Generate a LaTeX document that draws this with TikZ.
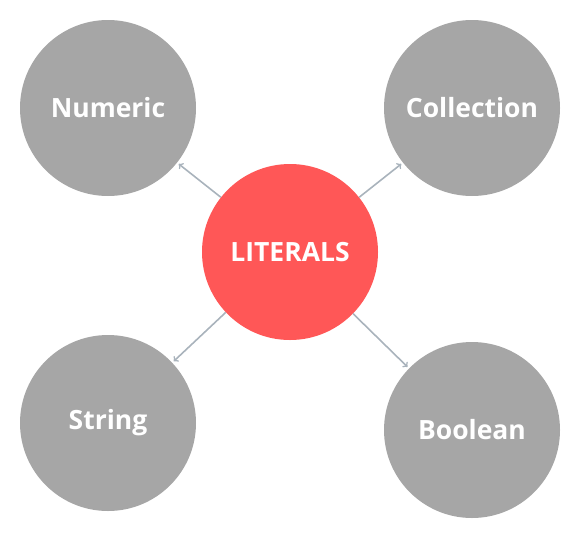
\documentclass[tikz,border=0pt]{standalone}
\usepackage{fontspec}
\setmainfont{Open Sans}
\usepackage{tikz}
\usetikzlibrary{positioning}

\definecolor{litred}{HTML}{FF5757}
\definecolor{kindgray}{HTML}{A6A6A6}
\definecolor{linkgray}{HTML}{A9B3BC}

\begin{document}
\begin{tikzpicture}[x=1pt,y=-1pt,
   kind/.style={circle,fill=kindgray,minimum size=176pt,inner sep=0pt,
     text=white,font=\bfseries\fontsize{26.5}{30}\selectfont},
   root/.style={kind,fill=litred},
   link/.style={->,draw=linkgray,line width=1.6pt,shorten >=2pt}]
   \useasboundingbox (0,0) rectangle (577,533);
   \node[root] (lit) at (290,252) {LITERALS};
   \node[kind] (num) at (108,108) {Numeric};
   \node[kind] (col) at (472,108) {Collection};
   \node[kind] (str) at (108,423) {String};
   \node[kind] (bool) at (472,430) {Boolean};
    \path[link]
    (lit) edge (num)
          edge (col)
          edge (str)
          edge (bool);
\end{tikzpicture}
\end{document}
